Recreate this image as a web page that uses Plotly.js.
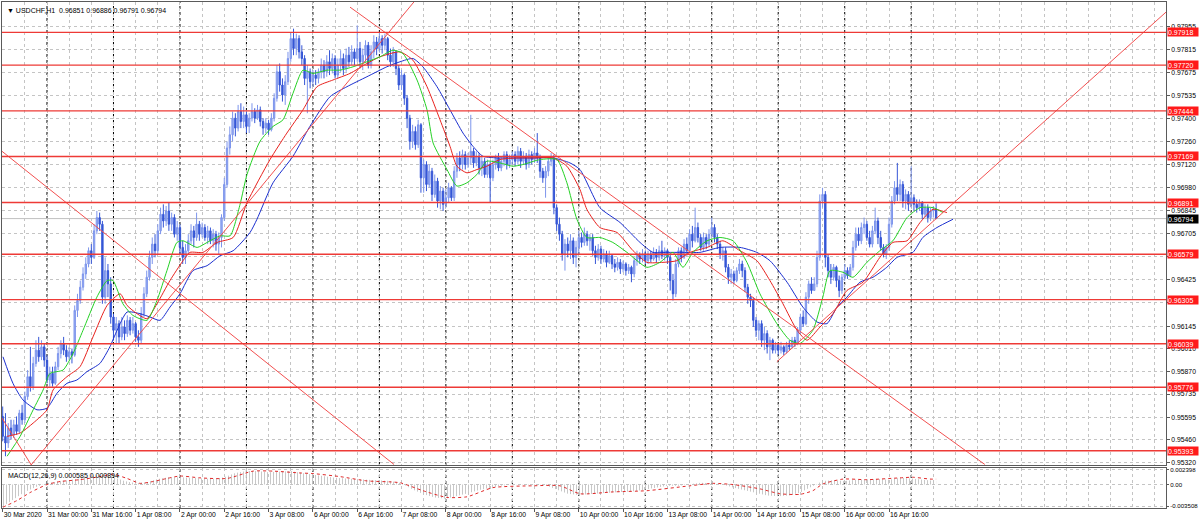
<!DOCTYPE html>
<html><head><meta charset="utf-8">
<script src="https://cdn.plot.ly/plotly-3.0.1.min.js"></script>
<style>html,body{margin:0;padding:0;background:#fff;}#chart{width:1200px;height:525px;}</style>
</head><body><div id="chart"></div>
<script>
const symbol = "USDCHF,H1";
const firstOpen = 0.9560;
const close = [0.9548,0.9544,0.9553,0.9549,0.9555,0.9551,0.9562,0.9558,0.9572,0.9584,
0.9578,0.9592,0.9600,0.9596,0.9602,0.9594,0.9582,0.9586,0.9580,0.9590,
0.9598,0.9604,0.9600,0.9596,0.9599,0.9597,0.9624,0.9630,0.9638,0.9646,
0.9652,0.9660,0.9656,0.9672,0.9680,0.9676,0.9632,0.9648,0.9640,0.9620,
0.9612,0.9616,0.9608,0.9614,0.9610,0.9618,0.9612,0.9616,0.9608,0.9606,
0.9622,0.9634,0.9644,0.9656,0.9664,0.9660,0.9672,0.9682,0.9678,0.9684,
0.9676,0.9680,0.9670,0.9674,0.9662,0.9656,0.9660,0.9666,0.9672,0.9668,
0.9676,0.9670,0.9674,0.9668,0.9672,0.9666,0.9670,0.9664,0.9668,0.9680,
0.9700,0.9722,0.9730,0.9740,0.9734,0.9744,0.9738,0.9742,0.9735,0.9740,
0.9744,0.9740,0.9745,0.9738,0.9734,0.9737,0.9733,0.9740,0.9752,0.9768,
0.9760,0.9754,0.9762,0.9776,0.9788,0.9782,0.9788,0.9780,0.9776,0.9764,
0.9768,0.9762,0.9766,0.9764,0.9768,0.9772,0.9768,0.9774,0.9770,0.9776,
0.9766,0.9772,0.9776,0.9770,0.9778,0.9774,0.9780,0.9776,0.9782,0.9774,
0.9778,0.9784,0.9772,0.9780,0.9786,0.9782,0.9788,0.9784,0.9788,0.9778,
0.9774,0.9780,0.9770,0.9760,0.9766,0.9752,0.9740,0.9726,0.9732,0.9724,
0.9736,0.9704,0.9712,0.9700,0.9708,0.9694,0.9702,0.9690,0.9696,0.9688,
0.9692,0.9698,0.9692,0.9708,0.9716,0.9712,0.9718,0.9712,0.9716,0.9720,
0.9713,0.9717,0.9710,0.9714,0.9706,0.9712,0.9704,0.9712,0.9716,0.9710,
0.9714,0.9718,0.9712,0.9715,0.9718,0.9714,0.9720,0.9714,0.9717,0.9712,
0.9718,0.9715,0.9719,0.9716,0.9708,0.9704,0.9708,0.9714,0.9716,0.9686,
0.9676,0.9670,0.9658,0.9664,0.9660,0.9666,0.9656,0.9662,0.9668,0.9665,
0.9670,0.9666,0.9668,0.9660,0.9656,0.9661,0.9655,0.9658,0.9653,0.9657,
0.9652,0.9650,0.9653,0.9649,0.9652,0.9648,0.9650,0.9646,0.9654,0.9657,
0.9655,0.9658,0.9654,0.9658,0.9655,0.9659,0.9656,0.9660,0.9657,0.9660,
0.9656,0.9642,0.9634,0.9652,0.9660,0.9656,0.9664,0.9660,0.9670,0.9666,
0.9674,0.9668,0.9662,0.9668,0.9664,0.9670,0.9674,0.9668,0.9664,0.9658,
0.9660,0.9650,0.9644,0.9646,0.9642,0.9648,0.9652,0.9648,0.9638,0.9632,
0.9630,0.9618,0.9612,0.9616,0.9606,0.9610,0.9602,0.9606,0.9600,0.9603,
0.9600,0.9602,0.9599,0.9603,0.9602,0.9606,0.9604,0.9612,0.9620,0.9616,
0.9632,0.9640,0.9636,0.9640,0.9656,0.9690,0.9694,0.9656,0.9648,0.9644,
0.9650,0.9642,0.9636,0.9644,0.9648,0.9645,0.9650,0.9662,0.9670,0.9666,
0.9674,0.9676,0.9668,0.9664,0.9672,0.9678,0.9668,0.9662,0.9658,0.9662,
0.9676,0.9690,0.9698,0.9694,0.9700,0.9690,0.9694,0.9688,0.9692,0.9688,
0.9686,0.9689,0.9682,0.9686,0.9680,0.9684,0.96851,0.96794];
const high = [0.9566,0.9562,0.9556,0.9558,0.9558,0.9560,0.9564,0.9567,0.9575,0.9588,
0.9602,0.9596,0.9606,0.9608,0.9606,0.9604,0.9597,0.9590,0.9590,0.9593,
0.9602,0.9606,0.9608,0.9603,0.9602,0.9601,0.9627,0.9634,0.9642,0.9650,
0.9656,0.9662,0.9664,0.9676,0.9684,0.9683,0.9678,0.9656,0.9652,0.9644,
0.9622,0.9620,0.9618,0.9620,0.9618,0.9621,0.9620,0.9620,0.9617,0.9612,
0.9626,0.9638,0.9648,0.9660,0.9668,0.9670,0.9676,0.9686,0.9688,0.9687,
0.9689,0.9683,0.9682,0.9678,0.9676,0.9666,0.9664,0.9670,0.9676,0.9675,
0.9683,0.9678,0.9677,0.9676,0.9675,0.9674,0.9673,0.9672,0.9671,0.9682,
0.9704,0.9726,0.9735,0.9744,0.9743,0.9748,0.9749,0.9747,0.9744,0.9743,
0.9749,0.9746,0.9748,0.9747,0.9740,0.9740,0.9739,0.9743,0.9755,0.9772,
0.9773,0.9764,0.9766,0.9780,0.9792,0.9794,0.9791,0.9790,0.9784,0.9778,
0.9772,0.9770,0.9769,0.9769,0.9770,0.9776,0.9775,0.9778,0.9781,0.9779,
0.9778,0.9776,0.9781,0.9779,0.9782,0.9783,0.9784,0.9782,0.9796,0.9786,
0.9782,0.9787,0.9786,0.9784,0.9790,0.9789,0.9792,0.9790,0.9791,0.9789,
0.9782,0.9783,0.9781,0.9772,0.9769,0.9767,0.9754,0.9742,0.9736,0.9735,
0.9739,0.9737,0.9715,0.9714,0.9712,0.9710,0.9706,0.9704,0.9699,0.9698,
0.9697,0.9701,0.9699,0.9711,0.9719,0.9720,0.9721,0.9720,0.9719,0.9742,
0.9722,0.9720,0.9719,0.9717,0.9716,0.9715,0.9714,0.9715,0.9718,0.9719,
0.9717,0.9720,0.9720,0.9718,0.9720,0.9720,0.9723,0.9722,0.9720,0.9719,
0.9721,0.9720,0.9722,0.9731,0.9718,0.9710,0.9711,0.9716,0.9719,0.9718,
0.9688,0.9680,0.9672,0.9667,0.9668,0.9670,0.9668,0.9666,0.9672,0.9671,
0.9674,0.9672,0.9670,0.9670,0.9663,0.9664,0.9663,0.9661,0.9660,0.9660,
0.9658,0.9655,0.9656,0.9655,0.9654,0.9653,0.9652,0.9651,0.9656,0.9660,
0.9659,0.9661,0.9660,0.9660,0.9660,0.9662,0.9661,0.9663,0.9666,0.9662,
0.9661,0.9658,0.9646,0.9655,0.9662,0.9662,0.9667,0.9668,0.9673,0.9675,
0.9686,0.9677,0.9670,0.9671,0.9670,0.9673,0.9680,0.9676,0.9670,0.9666,
0.9662,0.9662,0.9652,0.9649,0.9648,0.9650,0.9655,0.9654,0.9650,0.9640,
0.9634,0.9632,0.9620,0.9618,0.9618,0.9614,0.9612,0.9608,0.9607,0.9605,
0.9604,0.9605,0.9603,0.9605,0.9606,0.9608,0.9608,0.9614,0.9622,0.9624,
0.9635,0.9642,0.9644,0.9644,0.9660,0.9694,0.9698,0.9696,0.9658,0.9652,
0.9652,0.9651,0.9645,0.9646,0.9652,0.9650,0.9652,0.9666,0.9674,0.9674,
0.9677,0.9680,0.9678,0.9672,0.9675,0.9686,0.9680,0.9672,0.9664,0.9664,
0.9680,0.9693,0.9702,0.9713,0.9703,0.9702,0.9697,0.9696,0.9711,0.9694,
0.9691,0.9691,0.9690,0.9688,0.9688,0.9686,0.9687,0.96886];
const low = [0.9545,0.9536,0.9541,0.9546,0.9547,0.9549,0.9550,0.9555,0.9556,0.9570,
0.9575,0.9576,0.9590,0.9593,0.9594,0.9590,0.9580,0.9578,0.9578,0.9579,
0.9588,0.9595,0.9597,0.9593,0.9594,0.9592,0.9596,0.9620,0.9628,0.9636,
0.9643,0.9650,0.9652,0.9655,0.9670,0.9672,0.9628,0.9628,0.9632,0.9616,
0.9606,0.9604,0.9604,0.9606,0.9606,0.9608,0.9609,0.9610,0.9605,0.9602,
0.9604,0.9620,0.9632,0.9642,0.9652,0.9656,0.9658,0.9670,0.9674,0.9675,
0.9672,0.9672,0.9668,0.9666,0.9658,0.9652,0.9652,0.9658,0.9664,0.9662,
0.9666,0.9666,0.9668,0.9666,0.9664,0.9664,0.9662,0.9660,0.9658,0.9662,
0.9678,0.9698,0.9718,0.9726,0.9729,0.9732,0.9734,0.9734,0.9731,0.9731,
0.9738,0.9737,0.9739,0.9735,0.9730,0.9731,0.9730,0.9732,0.9738,0.9750,
0.9756,0.9750,0.9748,0.9760,0.9774,0.9778,0.9778,0.9776,0.9772,0.9760,
0.9743,0.9758,0.9759,0.9760,0.9761,0.9764,0.9764,0.9765,0.9766,0.9767,
0.9764,0.9764,0.9768,0.9766,0.9768,0.9771,0.9772,0.9772,0.9774,0.9770,
0.9769,0.9774,0.9770,0.9770,0.9776,0.9778,0.9780,0.9779,0.9781,0.9775,
0.9771,0.9771,0.9766,0.9757,0.9757,0.9748,0.9734,0.9721,0.9722,0.9721,
0.9722,0.9695,0.9695,0.9696,0.9698,0.9690,0.9692,0.9686,0.9685,0.9684,
0.9686,0.9689,0.9690,0.9690,0.9704,0.9708,0.9709,0.9709,0.9710,0.9712,
0.9710,0.9711,0.9706,0.9705,0.9704,0.9704,0.9689,0.9702,0.9709,0.9708,
0.9708,0.9711,0.9709,0.9710,0.9712,0.9711,0.9712,0.9710,0.9712,0.9709,
0.9710,0.9712,0.9713,0.9713,0.9704,0.9701,0.9692,0.9705,0.9711,0.9682,
0.9672,0.9666,0.9654,0.9648,0.9656,0.9655,0.9652,0.9650,0.9658,0.9662,
0.9663,0.9663,0.9660,0.9657,0.9652,0.9654,0.9652,0.9653,0.9650,0.9652,
0.9649,0.9647,0.9648,0.9646,0.9647,0.9645,0.9646,0.9641,0.9644,0.9651,
0.9652,0.9653,0.9652,0.9652,0.9653,0.9654,0.9653,0.9654,0.9655,0.9654,
0.9652,0.9636,0.9630,0.9632,0.9650,0.9653,0.9655,0.9657,0.9659,0.9662,
0.9665,0.9665,0.9660,0.9660,0.9661,0.9662,0.9668,0.9665,0.9661,0.9655,
0.9654,0.9647,0.9640,0.9640,0.9640,0.9641,0.9646,0.9644,0.9635,0.9628,
0.9626,0.9614,0.9608,0.9606,0.9602,0.9600,0.9598,0.9594,0.9598,0.9598,
0.9597,0.9598,0.9597,0.9598,0.9600,0.9601,0.9602,0.9603,0.9610,0.9614,
0.9615,0.9628,0.9634,0.9636,0.9638,0.9654,0.9686,0.9650,0.9644,0.9640,
0.9642,0.9638,0.9632,0.9634,0.9642,0.9643,0.9644,0.9648,0.9660,0.9663,
0.9664,0.9670,0.9666,0.9662,0.9662,0.9670,0.9664,0.9660,0.9656,0.9655,
0.9660,0.9674,0.9688,0.9690,0.9690,0.9686,0.9685,0.9684,0.9686,0.9684,
0.9683,0.9684,0.9679,0.9680,0.9677,0.9678,0.9680,0.96791];

// Alligator lines, read at sampled bar positions
const jawX = [0.1,3.7,7.3,12.4,16,19.6,23.2,26.8,30.4,35.1,38.7,41.3,44.9,49.6,53.2,56.8,60.4,64,68.7,73.8,78.5,83.2,89.3,91.8,97.6,104.8,110.9,118.2,124.3,131.5,138.7,143.4,148.1,151.7,156.8,161.5,166.2,169.8,173.4,179.5,185.7,191.5,198.7,204.8,208.4,215.6,222.9,230.1,234.8,239.8,245.6,251.7,259,266.2,272.3,277,283.2,288.9,294,297.6,301.2,304.8,309.5,314.2,319.2,322.9,328.6,332.2,337.3,343.1];
const jawY = [0.9596,0.9580,0.9570,0.9564,0.9565,0.9574,0.9580,0.9582,0.9587,0.9592,0.9602,0.9612,0.9623,0.9622,0.9620,0.9618,0.9626,0.9634,0.9648,0.9651,0.9657,0.9660,0.9671,0.9679,0.9701,0.9717,0.9735,0.9753,0.9759,0.9765,0.9771,0.9774,0.9776,0.9771,0.9759,0.9745,0.9731,0.9723,0.9717,0.9716,0.9716,0.9716,0.9716,0.9713,0.9709,0.9686,0.9677,0.9665,0.9659,0.9659,0.9659,0.9659,0.9662,0.9662,0.9659,0.9654,0.9641,0.9626,0.9617,0.9616,0.9626,0.9632,0.9641,0.9644,0.9650,0.9656,0.9659,0.9668,0.9674,0.9679];
const teethX = [1.6,6.3,11,16,18.2,23.2,27.9,32.6,37.7,42.4,44.9,48.5,52.1,55.7,60.4,65.1,67.6,72.3,77.4,83.2,88.2,96.5,102.6,108.4,113.5,119.2,125.4,131.5,136.2,143.4,148.1,153.2,157.9,161.5,164,167.6,171.2,174.8,179.5,185.7,191.5,198.7,203.7,208.4,210.9,215.6,221.8,227.6,232.6,238.4,243.4,248.1,254.3,260,266.2,272.3,277,281.7,286.8,290.4,295.1,299.8,304.8,310.6,316.7,321.4,326.5,331.2,335.9,340.9];
const teethY = [0.9548,0.9550,0.9556,0.9564,0.9576,0.9584,0.9590,0.9608,0.9627,0.9634,0.9627,0.9622,0.9619,0.9628,0.9642,0.9654,0.9659,0.9659,0.9665,0.9668,0.9689,0.9715,0.9731,0.9745,0.9759,0.9763,0.9767,0.9773,0.9777,0.9780,0.9775,0.9759,0.9739,0.9723,0.9711,0.9707,0.9709,0.9711,0.9715,0.9716,0.9716,0.9716,0.9711,0.9697,0.9685,0.9674,0.9671,0.9660,0.9653,0.9653,0.9654,0.9659,0.9662,0.9666,0.9660,0.9654,0.9642,0.9628,0.9612,0.9606,0.9614,0.9622,0.9636,0.9641,0.9656,0.9665,0.9666,0.9677,0.9685,0.9683];
const lipsX = [1.6,6.3,11,14.6,17.1,21.8,25.4,29,34,37.7,39.8,43.4,47,52.1,55.7,59.3,62.9,65.1,70.2,73.8,78.5,82.1,85.7,88.2,92.9,97.6,101.2,104.8,108.4,112,117.1,121.8,126.5,131.5,136.2,140.9,144.5,149.6,153.2,155.4,160.4,164,167.6,171.2,174.8,179.5,184.2,187.8,194,200.1,203.7,207.3,210.9,215.6,220.3,225.4,232.6,237.3,242,245.6,249.2,254.3,259,263.7,268.7,273.4,279.5,284.2,287.8,292.5,296.1,298.7,303.4,307,312,316.7,321.4,326.5,331.2,335.9,339.5];
const lipsY = [0.9536,0.9548,0.9564,0.9576,0.9586,0.9588,0.9598,0.9612,0.9632,0.9642,0.9642,0.9628,0.9621,0.9618,0.9630,0.9648,0.9665,0.9666,0.9662,0.9665,0.9669,0.9669,0.9688,0.9706,0.9726,0.9735,0.9739,0.9755,0.9769,0.9767,0.9769,0.9769,0.9771,0.9774,0.9777,0.9781,0.9779,0.9763,0.9745,0.9725,0.9709,0.9699,0.9701,0.9706,0.9714,0.9713,0.9711,0.9712,0.9715,0.9715,0.9701,0.9679,0.9668,0.9668,0.9665,0.9659,0.9650,0.9653,0.9659,0.9650,0.9659,0.9666,0.9668,0.9666,0.9653,0.9634,0.9616,0.9606,0.9604,0.9612,0.9632,0.9648,0.9647,0.9644,0.9653,0.9660,0.9666,0.9680,0.9686,0.9686,0.9683];

// MACD(12,26,9): main (histogram) and signal, read at sampled bars
const macdX = [0,4,8,12,16,20,24,28,32,36,40,44,48,52,56,60,64,68,72,76,80,84,88,92,96,100,104,108,112,116,120,124,128,132,136,140,144,148,152,156,160,164,168,172,176,180,184,188,192,196,200,204,208,212,216,220,224,228,232,236,240,244,248,252,256,260,264,268,272,276,280,284,288,292,296,300,304,308,312,316,320,324,328,332,336,337];
const macdMain = [-0.0036,-0.0024,-0.0012,-0.0004,0.0002,0.0005,0.0007,0.0010,0.0014,0.0016,0.0012,0.0006,0.0002,0.0004,0.0009,0.0012,0.0012,0.0011,0.0010,0.0009,0.0012,0.0019,0.0022,0.0022,0.0020,0.0021,0.0022,0.0019,0.0016,0.0013,0.0011,0.0010,0.0009,0.0008,0.0007,0.0006,0.0002,-0.0008,-0.0016,-0.0021,-0.0023,-0.0019,-0.0014,-0.0009,-0.0005,-0.0002,0.0000,0.0001,0.0001,-0.0001,-0.0008,-0.0015,-0.0017,-0.0015,-0.0014,-0.0013,-0.0012,-0.0011,-0.0008,-0.0005,-0.0002,-0.0002,0.0001,0.0003,0.0002,0.0000,-0.0005,-0.0009,-0.0014,-0.0018,-0.0019,-0.0018,-0.0013,-0.0004,0.0006,0.0007,0.0006,0.0008,0.0009,0.0009,0.0008,0.0011,0.0010,0.0008,0.0006,0.000585];
const signalX = [0.1,5.2,9.9,16,20.7,27.9,35.1,39.8,44.9,49.6,54.3,59.3,64,71.2,81,90.4,97.6,107.3,112,121.8,131.5,143.4,151.7,160.4,167.6,177,191.5,201.2,208.4,220.3,232.6,248.1,256.5,263.7,273.4,280.6,287.8,292.5,296.1,303.4,312,324,328.6,334.8,337];
const signalY = [-0.0037,-0.0026,-0.0013,0.0000,0.0005,0.0008,0.0013,0.0017,0.0010,0.0002,0.0005,0.0010,0.0014,0.0011,0.0010,0.0022,0.0022,0.0019,0.0018,0.0013,0.0006,0.0003,-0.0010,-0.0021,-0.0020,-0.0005,-0.0002,-0.0002,-0.0015,-0.0012,-0.0010,-0.0002,0.0002,0.0000,-0.0007,-0.0015,-0.0016,-0.0010,0.0001,0.0009,0.0008,0.0011,0.0012,0.0009,0.000894];

// horizontal levels and trend lines (bar index, price)
const levels = [0.97918,0.97720,0.97444,0.97169,0.96891,0.96579,0.96305,0.96039,0.95776,0.95393];
const trend1X = [-0.25,141.3], trend1Y = [0.9720,0.9531];
const trend2X = [9.9,148.9],   trend2Y = [0.9530,0.9811];
const trend3X = [-0.25,10.6],  trend3Y = [0.9559,0.9530];
const trend4X = [125.4,354.6], trend4Y = [0.9807,0.9531];
const trend5X = [279.5,420],   trend5Y = [0.9593,0.9804];

// axes
const priceTicks = [0.97955,0.97815,0.97675,0.97535,0.97400,0.97260,0.97120,0.96980,0.96845,0.96705,0.96565,0.96425,0.96285,0.96145,0.96010,0.95870,0.95735,0.95595,0.95460,0.95320];
const hiddenPriceTicks = [0.96565,0.96285];   // grid lines whose labels sit under level tags
const macdTicks = [0.002398,0,-0.003508];
const macdTickText = ["0.002398","0.00","-0.003508"];
const tickBars = [0,16,32,48,64,80,96,112,128,144,160,176,192,208,224,240,256,272,288,304,320];
const tickLabels = ["30 Mar 2020","31 Mar 00:00","31 Mar 16:00","1 Apr 08:00","2 Apr 00:00","2 Apr 16:00","3 Apr 08:00","6 Apr 00:00","6 Apr 16:00","7 Apr 08:00","8 Apr 00:00","8 Apr 16:00","9 Apr 08:00","10 Apr 00:00","10 Apr 16:00","13 Apr 08:00","14 Apr 00:00","14 Apr 16:00","15 Apr 08:00","16 Apr 00:00","16 Apr 16:00"];
const daySeparators = [16,40,64,88,112,136,160,184,208,232,256,280,304,328];

const n = close.length;
const bars = close.map((_, i) => i);
const open = close.map((c, i) => i === 0 ? firstOpen : close[i - 1]);
const gridBars = [];
for (let b = 0; b <= 420; b += 8) gridBars.push(b);
const minorBars = gridBars.filter(b => tickBars.indexOf(b) < 0);

const FONT = 'Liberation Sans, Arial, sans-serif';
const GRID = '#c4c4c4';
const FRAME = '#5a5a5a';

const traces = [
  {type:'candlestick', x:bars, open:open, high:high, low:low, close:close, xaxis:'x', yaxis:'y',
   increasing:{line:{color:'#7d95ec', width:1}, fillcolor:'#9aaef2'},
   decreasing:{line:{color:'#3556d6', width:1}, fillcolor:'#3556d6'},
   whiskerwidth:0, hoverinfo:'skip'},
  {type:'scatter', mode:'lines', x:jawX, y:jawY, line:{color:'#1b2fcf', width:1, shape:'spline', smoothing:0.6}, hoverinfo:'skip'},
  {type:'scatter', mode:'lines', x:teethX, y:teethY, line:{color:'#e8221e', width:1, shape:'spline', smoothing:0.6}, hoverinfo:'skip'},
  {type:'scatter', mode:'lines', x:lipsX, y:lipsY, line:{color:'#25d125', width:1, shape:'spline', smoothing:0.6}, hoverinfo:'skip'}
];
[[trend1X,trend1Y],[trend2X,trend2Y],[trend3X,trend3Y],[trend4X,trend4Y],[trend5X,trend5Y]].forEach(([tx,ty]) => {
  traces.push({type:'scatter', mode:'lines', x:tx, y:ty, line:{color:'#f25050', width:1}, hoverinfo:'skip'});
});
traces.push({type:'scatter', mode:'lines', x:macdX, y:macdMain, xaxis:'x2', yaxis:'y2',
  fill:'tozeroy', fillcolor:'rgba(255,255,255,0)',
  fillpattern:{shape:'|', size:3, solidity:0.3, fgcolor:'#c2c2c2', bgcolor:'rgba(255,255,255,0)'},
  line:{width:0, color:'rgba(0,0,0,0)'}, hoverinfo:'skip'});
traces.push({type:'scatter', mode:'lines', x:signalX, y:signalY, xaxis:'x2', yaxis:'y2',
  line:{color:'#e02828', width:1, dash:'dot', shape:'spline', smoothing:0.6}, hoverinfo:'skip'});

const shapes = [];
daySeparators.forEach(d => {
  ['y domain','y2 domain'].forEach(yr => shapes.push({type:'line', xref:'x', x0:d, x1:d, yref:yr, y0:0, y1:1,
    line:{color:'#000', width:1, dash:'3px,3px'}, layer:'below'}));
});
shapes.push({type:'line', xref:'paper', x0:0, x1:1, yref:'y', y0:close[n-1], y1:close[n-1],
  line:{color:'#c0c0c0', width:1}, layer:'below'});
levels.forEach(v => shapes.push({type:'line', xref:'paper', x0:0, x1:1, yref:'y', y0:v, y1:v,
  line:{color:'#ee3a36', width:1.4}, layer:'above'}));

const annotations = [];
levels.forEach(v => annotations.push({xref:'paper', x:1, xanchor:'left', xshift:1, yref:'y', y:v, yanchor:'middle',
  text:v.toFixed(5), showarrow:false, bgcolor:'#ff1a1a', font:{family:FONT, size:7, color:'#fff'},
  width:30, height:8, align:'left', borderpad:0}));
annotations.push({xref:'paper', x:1, xanchor:'left', xshift:1, yref:'y', y:close[n-1], yanchor:'middle',
  text:close[n-1].toFixed(5), showarrow:false, bgcolor:'#000', font:{family:FONT, size:7, color:'#fff'},
  width:30, height:8, align:'left', borderpad:0});
annotations.push({xref:'paper', x:0, xanchor:'left', xshift:3, yref:'paper', y:1, yanchor:'top', yshift:-3,
  text:'▼ ' + symbol + '  ' + [open[n-1],high[n-1],low[n-1],close[n-1]].map(v=>v.toFixed(5)).join(' '),
  showarrow:false, font:{family:FONT, size:7, color:'#000'}});
annotations.push({xref:'paper', x:0, xanchor:'left', xshift:4, yref:'y2 domain', y:1, yanchor:'top', yshift:-2,
  text:'MACD(12,26,9) ' + macdMain[macdMain.length-1].toFixed(6) + ' ' + signalY[signalY.length-1].toFixed(6),
  showarrow:false, font:{family:FONT, size:7, color:'#000'}});

const axisCommon = {showline:true, mirror:true, linecolor:FRAME, linewidth:1, zeroline:false, fixedrange:true};
const layout = {
  width:1200, height:525,
  margin:{l:2, r:34, t:2, b:17},
  paper_bgcolor:'#ffffff', plot_bgcolor:'#ffffff',
  showlegend:false,
  font:{family:FONT, size:7, color:'#000'},
  xaxis:Object.assign({}, axisCommon, {domain:[0,1], range:[-0.25,420], anchor:'y', tickmode:'array', tickvals:gridBars,
    showticklabels:false, ticks:'', showgrid:true, gridcolor:GRID, griddash:'3px,3px', gridwidth:1, rangeslider:{visible:false}}),
  yaxis:Object.assign({}, axisCommon, {domain:[0.08498,1], range:[0.95307,0.98101], anchor:'x', side:'right',
    tickmode:'array', tickvals:priceTicks,
    ticktext:priceTicks.map(v => hiddenPriceTicks.indexOf(v) >= 0 ? '' : v.toFixed(5)),
    ticks:'outside', ticklen:3, tickcolor:FRAME,
    showgrid:true, gridcolor:GRID, griddash:'3px,3px', tickfont:{family:FONT, size:6.8, color:'#000'}}),
  xaxis2:Object.assign({}, axisCommon, {domain:[0,1], range:[-0.25,420], anchor:'y2', tickmode:'array', tickvals:tickBars,
    ticktext:tickLabels, ticklabelposition:'outside right', tickangle:0, ticks:'outside', ticklen:3, tickcolor:FRAME,
    showgrid:true, gridcolor:GRID, griddash:'3px,3px', tickfont:{family:FONT, size:6.8, color:'#000'},
    minor:{tickmode:'array', tickvals:minorBars, showgrid:true, gridcolor:GRID, griddash:'3px,3px', ticks:''}}),
  yaxis2:Object.assign({}, axisCommon, {domain:[0,0.07905], range:[-0.00383,0.00271], anchor:'x2', side:'right',
    tickmode:'array', tickvals:macdTicks, ticktext:macdTickText, ticks:'outside', ticklen:2, tickcolor:FRAME,
    showgrid:true, gridcolor:GRID, griddash:'3px,3px', tickfont:{family:FONT, size:6.1, color:'#000'}}),
  shapes:shapes,
  annotations:annotations
};
Plotly.newPlot('chart', traces, layout, {staticPlot:true, displayModeBar:false});
</script>
</body></html>
